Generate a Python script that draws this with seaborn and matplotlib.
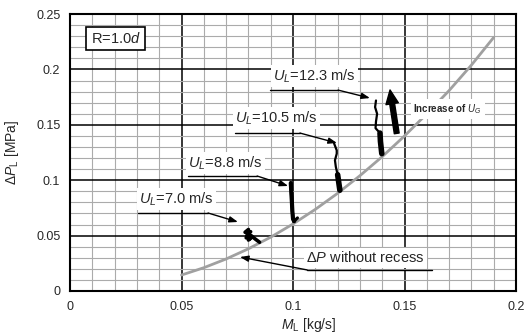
import matplotlib
matplotlib.use('Agg')
import matplotlib.pyplot as plt
import numpy as np
import pandas as pd
import seaborn as sns
from matplotlib.ticker import MultipleLocator

# values
curve_x = [0.05, 0.06, 0.07, 0.08, 0.09, 0.10, 0.11, 0.12, 0.13, 0.14, 0.15, 0.16, 0.17, 0.18, 0.19]
curve_y = [0.0144, 0.0210, 0.0289, 0.0381, 0.0486, 0.0605, 0.0737, 0.0882, 0.1041, 0.1213,
           0.1400, 0.1600, 0.1810, 0.2040, 0.2290]

ul70_x = [0.0800, 0.0785, 0.0810, 0.0795, 0.0790, 0.0815, 0.0800, 0.0812, 0.0830, 0.0850]
ul70_y = [0.0555, 0.0530, 0.0535, 0.0510, 0.0480, 0.0485, 0.0460, 0.0500, 0.0470, 0.0440]

ul88_x = [0.0990, 0.0992, 0.0995, 0.0997, 0.1000, 0.1005, 0.1020]
ul88_y = [0.0975, 0.0900, 0.0800, 0.0720, 0.0650, 0.0630, 0.0660]

ul105_x = [0.1184, 0.1196, 0.1196, 0.1188, 0.1192, 0.1200, 0.1205, 0.1210]
ul105_y = [0.1333, 0.1270, 0.1240, 0.1180, 0.1120, 0.1050, 0.0980, 0.0910]

ul123_x = [0.1372, 0.1368, 0.1377, 0.1372, 0.1370, 0.1390, 0.1392, 0.1398]
ul123_y = [0.1720, 0.1660, 0.1600, 0.1530, 0.1470, 0.1426, 0.1350, 0.1240]

labels = ['$U_L$=7.0 m/s', '$U_L$=8.8 m/s', '$U_L$=10.5 m/s', '$U_L$=12.3 m/s']

sns.set_style('white')
plt.rcParams['font.family'] = ['Liberation Sans', 'DejaVu Sans']
plt.rcParams['mathtext.fontset'] = 'custom'
plt.rcParams['mathtext.rm'] = 'Liberation Sans'
plt.rcParams['mathtext.it'] = 'Liberation Sans:italic'
plt.rcParams['mathtext.bf'] = 'Liberation Sans:bold'

fig = plt.figure(figsize=(5.32, 3.36), dpi=100)
ax = fig.add_axes([0.1316, 0.134, 0.8384, 0.824])

# grid
ax.xaxis.set_major_locator(MultipleLocator(0.05))
ax.yaxis.set_major_locator(MultipleLocator(0.05))
ax.xaxis.set_minor_locator(MultipleLocator(0.01))
ax.yaxis.set_minor_locator(MultipleLocator(0.01))
ax.grid(which='minor', color='#ababab', lw=0.8)
ax.grid(which='major', color='black', lw=1.1)
ax.set_axisbelow(True)

# curve without recess
df = pd.DataFrame({'x': curve_x, 'y': curve_y})
sns.lineplot(data=df, x='x', y='y', ax=ax, color='#a0a0a0', lw=2, zorder=3)

# measured traces
sns.lineplot(x=ul70_x, y=ul70_y, ax=ax, color='black', lw=2.6, sort=False, estimator=None, zorder=4)
sns.lineplot(x=ul88_x, y=ul88_y, ax=ax, color='black', lw=2.2, sort=False, estimator=None, zorder=4)
sns.lineplot(x=ul88_x[:-1], y=ul88_y[:-1], ax=ax, color='black', lw=3, sort=False, estimator=None, zorder=4)
sns.lineplot(x=ul105_x, y=ul105_y, ax=ax, color='black', lw=1.6, sort=False, estimator=None, zorder=4)
sns.lineplot(x=ul105_x[-3:], y=ul105_y[-3:], ax=ax, color='black', lw=4, sort=False, estimator=None, zorder=4)
sns.lineplot(x=ul123_x, y=ul123_y, ax=ax, color='black', lw=1.6, sort=False, estimator=None, zorder=4)
sns.lineplot(x=ul123_x[-3:], y=ul123_y[-3:], ax=ax, color='black', lw=4, sort=False, estimator=None, zorder=4)

# labels with leader arrows
label_pos = [(0.0309, 0.0830), (0.0529, 0.1155), (0.0740, 0.1561), (0.0910, 0.1940)]
line_pos = [(0.0305, 0.0619, 0.0704), (0.0529, 0.0839, 0.1038),
            (0.0740, 0.1031, 0.1426), (0.0897, 0.1202, 0.1814)]
tips = [(0.0753, 0.0623), (0.0978, 0.0948), (0.1197, 0.1336), (0.1345, 0.1742)]
box = dict(boxstyle='square,pad=0.15', fc='white', ec='none')
for lab, (lx, ly), (x0, x1, yl), tip in zip(labels, label_pos, line_pos, tips):
    ax.text(lx, ly, lab, fontsize=10.5, ha='left', va='center', bbox=box, zorder=5)
    ax.plot([x0, x1], [yl, yl], color='black', lw=1, zorder=5)
    ax.annotate('', xy=tip, xytext=(x1, yl),
                arrowprops=dict(arrowstyle='-|>,head_length=0.5,head_width=0.18', color='black', lw=1,
                                shrinkA=0, shrinkB=0), zorder=5)

ax.text(0.1060, 0.0298, r'$\mathit{\Delta P}$ without recess', fontsize=10.5, ha='left', va='center',
        bbox=box, zorder=5)
ax.plot([0.1063, 0.1623], [0.0190, 0.0190], color='black', lw=1, zorder=5)
ax.annotate('', xy=(0.0762, 0.0307), xytext=(0.1063, 0.0190),
            arrowprops=dict(arrowstyle='-|>,head_length=0.5,head_width=0.18', color='black', lw=1,
                            shrinkA=0, shrinkB=0), zorder=5)

# increase of U_G arrow
ax.annotate('', xy=(0.1435, 0.1815), xytext=(0.1465, 0.1423),
            arrowprops=dict(width=3.5, headwidth=9, headlength=10, color='black', shrink=0), zorder=6)
ax.text(0.1540, 0.1643, r'Increase of $U_G$', fontsize=7, fontweight='bold', ha='left', va='center',
        bbox=dict(boxstyle='square,pad=0.3', fc='white', ec='none'), zorder=5)

ax.text(0.102, 0.9116, r'R=1.0$d$', transform=ax.transAxes, fontsize=10.5, ha='center', va='center',
        bbox=dict(boxstyle='square,pad=0.3', fc='white', ec='black', lw=1.2), zorder=6)

ax.set_xlim(0, 0.2)
ax.set_ylim(0, 0.25)
ax.set_xticks([0, 0.05, 0.1, 0.15, 0.2])
ax.set_xticklabels(['0', '0.05', '0.1', '0.15', '0.2'])
ax.set_yticks([0, 0.05, 0.1, 0.15, 0.2, 0.25])
ax.set_yticklabels(['0', '0.05', '0.1', '0.15', '0.2', '0.25'])
ax.tick_params(which='both', length=0, labelsize=9, pad=7)
for s in ax.spines.values():
    s.set_visible(True)
    s.set_color('black')
    s.set_linewidth(1.5)

ax.set_xlabel(r'$M_\mathrm{L}$ [kg/s]', fontsize=10, labelpad=2)
ax.xaxis.set_label_coords(0.535, -0.09)
ax.set_ylabel(r'$\mathit{\Delta P}_\mathrm{L}$ [MPa]', fontsize=10)
ax.yaxis.set_label_coords(-0.11, 0.5)

fig.savefig('out.png', dpi=100)
